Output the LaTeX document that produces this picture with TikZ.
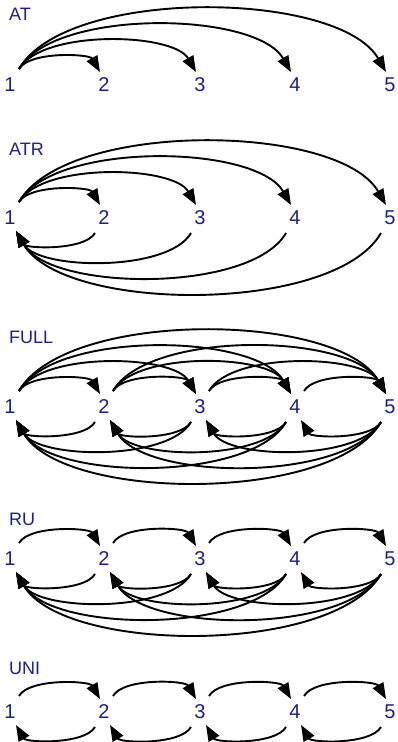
\documentclass[tikz,border=0pt]{standalone}
\usepackage{fontspec}
\setmainfont{Liberation Sans}
\usetikzlibrary{arrows.meta}
\definecolor{lbl}{RGB}{30,30,140}
\begin{document}
\begin{tikzpicture}[x=1pt,y=-1pt,
  digit/.style={text=lbl,font=\fontsize{20}{20}\selectfont,inner sep=0pt},
  ttl/.style={text=lbl,font=\fontsize{18}{18}\selectfont,inner sep=0pt,anchor=west},
  link/.style={line width=1.9pt,-{Triangle[length=16pt,width=12pt]}},
  fwd/.style={link,out=60,in=120,looseness=0.66},
  bwd/.style={link,out=240,in=300,looseness=0.66}]
\useasboundingbox (0,0) rectangle (398,742);

% five rows of states 1..5, each with its title and attachment points
\foreach \p/\y/\ty/\t in {A/85/14/AT, B/218/149/ATR, C/407/337/FULL, D/559/519/RU, E/712/668/UNI} {
  \node[ttl] (\p-title) at (9,\ty) {\t};
  \foreach \k/\x in {1/10,2/104,3/200,4/295,5/390} {
    \node[digit] (\p\k) at (\x,\y) {\k};
    \coordinate (\p\k-os) at ([shift={(9,-16)}]\p\k.center);
    \coordinate (\p\k-ft) at ([shift={(-4,-13)}]\p\k.center);
    \coordinate (\p\k-bs) at ([shift={(-9,15)}]\p\k.center);
    \coordinate (\p\k-bt) at ([shift={(6,13)}]\p\k.center);
  }
}

% AT: from 1 to every other state
\foreach \j in {2,3,4,5} \draw[fwd] (A1-os) to (A\j-ft);

% ATR: from 1 to every state and back
\foreach \j in {2,3,4,5} {
  \draw[fwd] (B1-os) to (B\j-ft);
  \draw[bwd] (B\j-bs) to (B1-bt);
}

% FULL: every pair in both directions
\foreach \i/\js in {1/{2,3,4,5},2/{3,4,5},3/{4,5},4/{5}}
  \foreach \j in \js {
    \draw[fwd] (C\i-os) to (C\j-ft);
    \draw[bwd] (C\j-bs) to (C\i-bt);
  }

% RU: forward to the next state, backward to any earlier one
\foreach \i/\js in {1/{2,3,4,5},2/{3,4,5},3/{4,5},4/{5}}
  \foreach \j in \js \draw[bwd] (D\j-bs) to (D\i-bt);
\foreach \i/\j in {1/2,2/3,3/4,4/5} \draw[fwd] (D\i-os) to (D\j-ft);

% UNI: neighbours only
\foreach \i/\j in {1/2,2/3,3/4,4/5} {
  \draw[fwd] (E\i-os) to (E\j-ft);
  \draw[bwd] (E\j-bs) to (E\i-bt);
}
\end{tikzpicture}
\end{document}
